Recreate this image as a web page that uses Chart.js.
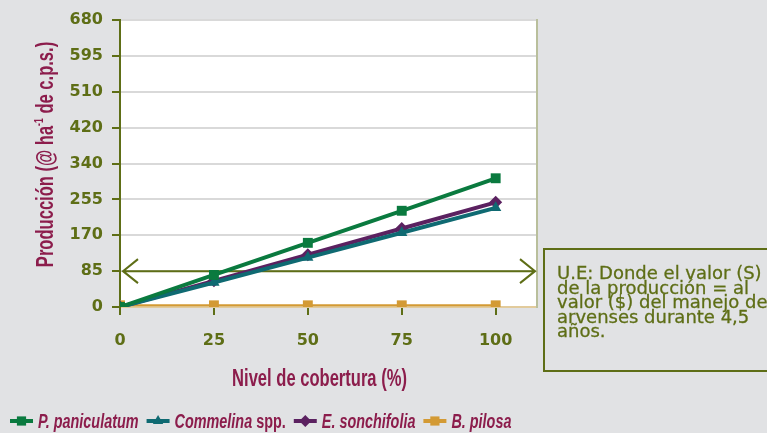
<!DOCTYPE html>
<html lang="es">
<head>
<meta charset="utf-8">
<script src="https://cdn.jsdelivr.net/npm/chart.js@4.4.1/dist/chart.umd.min.js"></script>
<style>
  html, body { margin: 0; padding: 0; background: #e1e2e4; }
  #lienzo { position: relative; width: 767px; height: 433px; overflow: hidden; }
  #grafico { position: absolute; left: 0; top: 0; }
  #nota {
    position: absolute; left: 543px; top: 248px; width: 240px; height: 124px;
    border: 2px solid #5e6e16; box-sizing: border-box;
    padding: 16px 0 0 12px;
    font-family: "DejaVu Sans", sans-serif; font-size: 18px; line-height: 14.6px;
    color: #5e6e16; white-space: pre; -webkit-text-stroke: 0.3px #5e6e16;
  }
</style>
</head>
<body>
<div id="lienzo">
  <canvas id="grafico" width="767" height="433"></canvas>
  <div id="nota"></div>
</div>
<script>
// Niveles de cobertura (eje X)
const cobertura = [0, 25, 50, 75, 100];
const xTicks = [0, 25, 50, 75, 100];

// Producción por especie (@ ha-1 de c.p.s.)
const paniculatum = [0, 76, 152, 228, 305];
const commelina = [0, 58, 117, 176, 235];
const sonchifolia = [0, 62, 124, 186, 248];
const pilosa = [4, 4, 4, 4, 4];

// Marcas del eje Y (valor y texto tal como aparece)
const yTicks = [0, 85, 170, 255, 340, 425, 510, 595, 680];
const yTickLabels = ['0', '85', '170', '255', '340', '420', '510', '595', '680'];

// Umbral económico
const umbral = 85;
const notaTexto = 'U.E: Donde el valor (S)\nde la producción = al\nvalor ($) del manejo de\narvenses durante 4,5\naños.';

// Títulos de ejes
const tituloX = 'Nivel de cobertura (%)';
const tituloY = ['Producción (@ ha', '-1', ' de c.p.s.)'];

const OLIVA = '#5e6e16';
const GRANATE = '#8c1d4c';
const ESTRECHO = 0.72; // compresión horizontal para imitar la fuente condensada
const FUENTE_TITULO = '"Liberation Sans", Arial, sans-serif';

const series = [
  { nombre: 'P. paniculatum', sufijo: '', datos: paniculatum, color: '#0a7a3f', punto: 'rect', radio: 7, ancho: 4 },
  { nombre: 'Commelina', sufijo: ' spp.', datos: commelina, color: '#0f6a72', punto: 'triangle', radio: 6.5, ancho: 4 },
  { nombre: 'E. sonchifolia', sufijo: '', datos: sonchifolia, color: '#5b2160', punto: 'rectRot', radio: 6.5, ancho: 4 },
  { nombre: 'B. pilosa', sufijo: '', datos: pilosa, color: '#d39a34', punto: 'rect', radio: 7, ancho: 2 }
];

/**
 * Escribe un texto comprimido horizontalmente y devuelve su ancho final.
 */
function textoEstrecho(ctx, texto, x, y) {
  ctx.save();
  ctx.translate(x, y);
  ctx.scale(ESTRECHO, 1);
  ctx.fillText(texto, 0, 0);
  const w = ctx.measureText(texto).width * ESTRECHO;
  ctx.restore();
  return w;
}

/**
 * Pinta el fondo blanco del área, el borde derecho y la flecha del umbral.
 */
const fondoYFlecha = {
  id: 'fondoYFlecha',
  beforeDraw(chart) {
    const { ctx, chartArea: a } = chart;
    ctx.save();
    ctx.fillStyle = '#ffffff';
    ctx.fillRect(a.left, a.top, a.right - a.left, a.bottom - a.top);
    ctx.restore();
  },
  beforeDatasetsDraw(chart) {
    const { ctx, chartArea: a } = chart;
    const y = chart.scales.y.getPixelForValue(umbral);
    ctx.save();
    ctx.strokeStyle = '#b9bf9c';
    ctx.lineWidth = 2;
    ctx.beginPath();
    ctx.moveTo(a.right, a.top - 1);
    ctx.lineTo(a.right, a.bottom + 1);
    ctx.stroke();

    ctx.strokeStyle = OLIVA;
    ctx.lineWidth = 2;
    const x1 = a.left + 3, x2 = a.right - 2;
    ctx.beginPath();
    ctx.moveTo(x1, y);
    ctx.lineTo(x2, y);
    ctx.moveTo(x1 + 15, y - 12);
    ctx.lineTo(x1, y);
    ctx.lineTo(x1 + 15, y + 12);
    ctx.moveTo(x2 - 15, y - 12);
    ctx.lineTo(x2, y);
    ctx.lineTo(x2 - 15, y + 12);
    ctx.stroke();
    ctx.restore();
  }
};

/**
 * Títulos de ejes y leyenda, con letra condensada.
 */
const titulosYLeyenda = {
  id: 'titulosYLeyenda',
  afterDraw(chart) {
    const { ctx, chartArea: a } = chart;
    ctx.save();
    ctx.fillStyle = GRANATE;
    ctx.textBaseline = 'alphabetic';

    // Título X
    ctx.font = `bold 23px ${FUENTE_TITULO}`;
    const wx = ctx.measureText(tituloX).width * ESTRECHO;
    textoEstrecho(ctx, tituloX, (a.left + a.right) / 2 - 9 - wx / 2, 386);

    // Título Y (rotado, con superíndice)
    ctx.save();
    ctx.translate(53, (a.top + a.bottom) / 2 - 9);
    ctx.rotate(-Math.PI / 2);
    const partes = tituloY.map((t, i) => ({ t, sup: i === 1 }));
    let total = 0;
    partes.forEach(p => {
      ctx.font = p.sup ? `bold 12px ${FUENTE_TITULO}` : `bold 23px ${FUENTE_TITULO}`;
      p.w = ctx.measureText(p.t).width * ESTRECHO;
      total += p.w;
    });
    let px = -total / 2;
    partes.forEach(p => {
      ctx.font = p.sup ? `bold 12px ${FUENTE_TITULO}` : `bold 23px ${FUENTE_TITULO}`;
      textoEstrecho(ctx, p.t, px, p.sup ? -10 : 0);
      px += p.w;
    });
    ctx.restore();

    // Leyenda
    let x = 10;
    const yL = 421;
    series.forEach(s => {
      ctx.strokeStyle = s.color;
      ctx.fillStyle = s.color;
      ctx.lineWidth = 4;
      ctx.beginPath();
      ctx.moveTo(x, yL);
      ctx.lineTo(x + 23, yL);
      ctx.stroke();
      Chart.helpers.drawPoint(ctx, { pointStyle: s.punto, radius: s.radio - 0.5, borderWidth: 0 }, x + 11.5, yL);
      x += 28;
      ctx.fillStyle = GRANATE;
      ctx.font = `italic bold 20px ${FUENTE_TITULO}`;
      x += textoEstrecho(ctx, s.nombre, x, yL + 7);
      if (s.sufijo) {
        ctx.font = `bold 20px ${FUENTE_TITULO}`;
        x += textoEstrecho(ctx, s.sufijo, x, yL + 7);
      }
      x += 8;
    });
    ctx.restore();
  }
};

const ctx = document.getElementById('grafico').getContext('2d');
new Chart(ctx, {
  type: 'line',
  data: {
    datasets: series.map(s => ({
      label: s.nombre + s.sufijo,
      data: s.datos.map((v, i) => ({ x: cobertura[i], y: v })),
      borderColor: s.color,
      backgroundColor: s.color,
      borderWidth: s.ancho,
      pointStyle: s.punto,
      pointRadius: s.radio,
      pointBorderWidth: 0,
      tension: 0
    }))
  },
  options: {
    responsive: false,
    animation: false,
    layout: { padding: { top: 20, right: 230, left: 0, bottom: 0 } },
    plugins: { legend: { display: false }, tooltip: { enabled: false } },
    scales: {
      x: {
        type: 'linear', min: 0, max: 111,
        afterBuildTicks: (s) => { s.ticks = xTicks.map(v => ({ value: v })); },
        afterFit: (s) => { s.height = 126; },
        grid: { drawOnChartArea: false, tickColor: OLIVA, lineWidth: 2, tickLength: 8 },
        border: { color: '#e2cb9c', width: 2 },
        ticks: { color: OLIVA, padding: 16, font: { family: 'DejaVu Sans', weight: 'bold', size: 16 } }
      },
      y: {
        min: 0, max: 680,
        afterBuildTicks: (s) => { s.ticks = yTicks.map(v => ({ value: v })); },
        afterFit: (s) => { s.width = 120; },
        grid: { color: '#d9d9d9', tickColor: OLIVA, lineWidth: 2, tickLength: 8 },
        border: { color: OLIVA, width: 2 },
        ticks: {
          color: OLIVA, padding: 9,
          font: { family: 'DejaVu Sans', weight: 'bold', size: 16 },
          callback: (v) => yTickLabels[yTicks.indexOf(v)]
        }
      }
    }
  },
  plugins: [fondoYFlecha, titulosYLeyenda]
});

// Nota del umbral económico
document.getElementById('nota').textContent = notaTexto;
</script>
</body>
</html>
